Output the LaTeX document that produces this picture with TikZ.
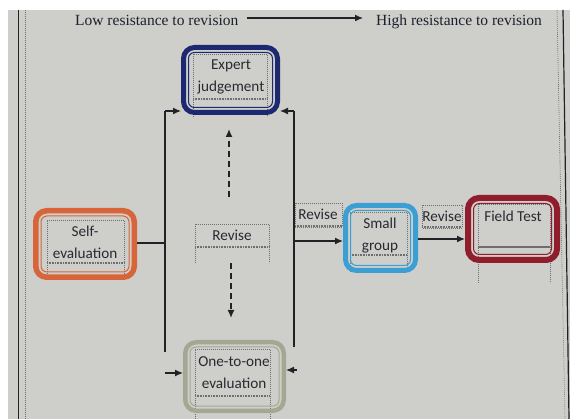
\documentclass[tikz,border=0pt]{standalone}
\usepackage{fontspec}
\setmainfont{Liberation Serif}
\newfontfamily\boxfont{Carlito}
\usetikzlibrary{arrows.meta,calc}
\definecolor{pagegrey}{RGB}{206,207,203}
\definecolor{linec}{RGB}{34,34,38}
\definecolor{txtgrey}{RGB}{40,42,48}
\definecolor{headc}{RGB}{28,32,44}
\definecolor{dotc}{RGB}{110,110,110}
\definecolor{navyc}{RGB}{30,40,112}
\definecolor{orangec}{RGB}{216,100,58}
\definecolor{bluec}{RGB}{59,159,211}
\definecolor{redc}{RGB}{143,29,44}
\definecolor{olivec}{RGB}{164,168,146}
\newcommand\innerframe[3]{\draw[#2, line width=1pt, rounded corners=6pt]
  ([shift={(#3pt,-#3pt)}]#1.north west) rectangle ([shift={(-#3pt,#3pt)}]#1.south east);}
\begin{document}
\begin{tikzpicture}[x=1pt,y=-1pt,
  box/.style={draw=#1, line width=5pt, rounded corners=11pt, inner sep=0pt},
  txt/.style={font=\boxfont\fontsize{15.2}{22}\selectfont, text=txtgrey, align=center, inner sep=0pt},
  head/.style={font=\fontsize{15.5}{18}\selectfont, text=headc, inner sep=0pt},
  arr/.style={draw=linec, line width=1.2pt, -{Latex[length=8pt,width=7pt]}},
  darr/.style={arr, line width=1.5pt, dash pattern=on 6pt off 4pt},
  conn/.style={draw=linec, line width=1.2pt},
  dotf/.style={draw=dotc, line width=0.6pt, dash pattern=on 0.8pt off 1.2pt},
  dotl/.style={draw=dotc, line width=1.4pt, dash pattern=on 0.8pt off 0.8pt}]
\useasboundingbox (0,0) rectangle (570,419);
\fill[white] (0,0) rectangle (570,419);
\fill[pagegrey] (8,10) rectangle (570,419);
% page borders
\draw[linec, line width=0.8pt] (18,10) -- (18,419);
\draw[dotf] (25,10) -- (25,419);
\draw[dotf] (557,10) -- (565,419);
\draw[linec, line width=1.2pt] (563,10) -- (569,419);

% header
\node[head, anchor=base west] (low) at (75,26) {Low resistance to revision};
\node[head, anchor=base west] (high) at (376,26) {High resistance to revision};
\draw[arr] ([xshift=8pt,yshift=8pt]low.base east) -- ([xshift=-13pt,yshift=8pt]high.base west);

% dotted text frames
\draw[dotf] (193,117) -- (193,54) -- (267,54) -- (267,117);
\draw[dotl] (193,99) -- (267,99);
\draw[dotf] (47,280) -- (47,220) -- (124,220) -- (124,280);
\draw[dotl] (47,263) -- (124,263);
\draw[dotf] (350,272) -- (350,212) -- (407,212) -- (407,272);
\draw[dotl] (350,255) -- (407,255);
\draw[dotf] (478,283) -- (478,204) -- (550,204) -- (550,283);
\draw[draw=dotc, line width=1.2pt] (478,247) -- (550,247);
\draw[dotf] (195,419) -- (195,349) -- (270,349) -- (270,419);
\draw[dotl] (195,396) -- (270,396);
\draw[dotf] (195,263) -- (195,224) -- (269,224) -- (269,263);
\draw[dotl] (195,247) -- (269,247);
\draw[dotf] (295,203) rectangle (342,227);
\draw[dotl] (295,226) -- (342,226);
\draw[dotf] (422,205) rectangle (462,228);
\draw[dotl] (422,227) -- (462,227);

% boxes
\node[box=navyc, minimum width=94pt, minimum height=65pt] (expert) at (230.5,80) {};
\innerframe{expert}{navyc}{7.5}
\node[box=orangec, line width=5.5pt, minimum width=98.5pt, minimum height=66.5pt] (self) at (85,244) {};
\innerframe{self}{orangec}{8}
\node[box=bluec, minimum width=70pt, minimum height=65pt] (small) at (380.5,238) {};
\innerframe{small}{bluec}{7.5}
\node[box=redc, line width=6pt, minimum width=89pt, minimum height=62pt] (field) at (512.5,229) {};
\innerframe{field}{redc}{8.5}
\node[box=olivec, line width=4.5pt, minimum width=98.5pt, minimum height=68.5pt] (one) at (234.5,376.5) {};
\innerframe{one}{olivec}{7}

% texts
\node[txt] (expertT) at (231,77) {Expert\\judgement};
\node[txt] (selfT) at (85,242) {Self-\\evaluation};
\node[txt] (smallT) at (380,236) {Small\\group};
\node[txt] (fieldT) at (513,216) {Field Test};
\node[txt] (oneT) at (234,373) {One-to-one\\evaluation};
\node[txt, minimum width=74pt, minimum height=23pt] (revise) at (232,235.5) {Revise};
\node[txt] (rev1) at (318,214) {Revise};
\node[txt] (rev2) at (442,216) {Revise};

% connector coordinates
\coordinate (tl) at (165,111);
\coordinate (tr) at (294,111);
\coordinate (bl) at (165,352);
\coordinate (br) at (294,347);
\coordinate (mid) at (165,243);
\coordinate (sg) at (294,241);
\coordinate (ol) at (165,373);
\coordinate (or) at (297,370);

\draw[conn] (self.east |- mid) -- (mid);
\draw[conn] (tl) -- (bl);
\draw[conn] (tr) -- (br);
\draw[arr] (tl) -- (tl -| expert.west);
\draw[arr] (tr) -- (tr -| expert.east);
\draw[arr] (sg) -- (sg -| small.west);
\draw[arr] ([yshift=-1pt]small.east) -- ([yshift=-1pt]small.east -| field.west);
\draw[arr] (ol) -- (ol -| one.west);
\draw[arr] (or) -- (or -| one.east);
\draw[darr] ([xshift=-3pt,yshift=27pt]revise.north) -- ([xshift=-1.5pt,yshift=-14pt]expert.south);
\draw[darr] ([xshift=-1pt,yshift=-16pt]revise.south) -- ([yshift=22pt,xshift=-3.5pt]one.north);
\end{tikzpicture}
\end{document}
